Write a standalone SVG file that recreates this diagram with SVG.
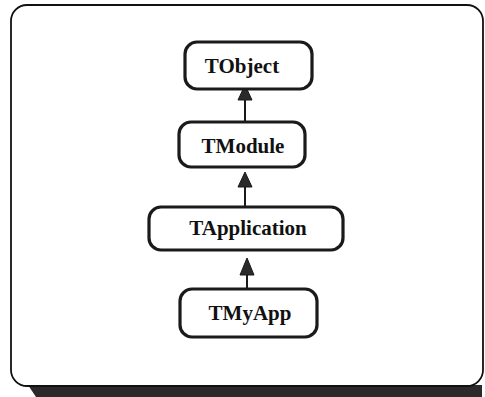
<svg xmlns="http://www.w3.org/2000/svg" width="485" height="397" viewBox="0 0 485 397">
  <style>
    .frame { fill: #ffffff; stroke: #111111; stroke-width: 1.8; }
    .shadow { fill: #2a2a2a; }
    .box { fill: #ffffff; stroke: #1a1a1a; stroke-width: 3.2; }
    .label { font-family: "Liberation Serif", "Times New Roman", serif; font-weight: bold; font-size: 21px; fill: #111111; text-anchor: middle; }
    .edge { stroke: #1a1a1a; stroke-width: 2; fill: none; }
    .head { fill: #2a2a2a; stroke: #1a1a1a; stroke-width: 1; }
  </style>

  <rect width="485" height="397" fill="#ffffff"/>

  <!-- drop shadow under the outer panel -->
  <path class="shadow" d="M28 385 H482 V397 H36 Z"/>
  <rect class="frame" x="11" y="5" width="472" height="381" rx="16" ry="16"/>

  <!-- connectors: each subclass points up to its parent -->
  <g id="connectors">
    <line class="edge" x1="245" y1="122" x2="245" y2="99"/>
    <polygon class="head" points="245,85 238,100 252,100"/>
    <line class="edge" x1="245" y1="207" x2="245" y2="186"/>
    <polygon class="head" points="245,172 238,187 252,187"/>
    <line class="edge" x1="247" y1="288" x2="247" y2="274"/>
    <polygon class="head" points="247,258 240,275 254,275"/>
  </g>

  <g id="TObject">
    <rect class="box" x="185" y="42" width="127" height="47" rx="12" ry="12"/>
    <text class="label" x="242" y="73">TObject</text>
  </g>

  <g id="TModule">
    <rect class="box" x="179" y="122" width="126" height="45" rx="12" ry="12"/>
    <text class="label" x="243" y="153">TModule</text>
  </g>

  <g id="TApplication">
    <rect class="box" x="149" y="207" width="194" height="43" rx="12" ry="12"/>
    <text class="label" x="248" y="235">TApplication</text>
  </g>

  <g id="TMyApp">
    <rect class="box" x="180" y="289" width="137" height="48" rx="12" ry="12"/>
    <text class="label" x="250" y="320">TMyApp</text>
  </g>
</svg>
